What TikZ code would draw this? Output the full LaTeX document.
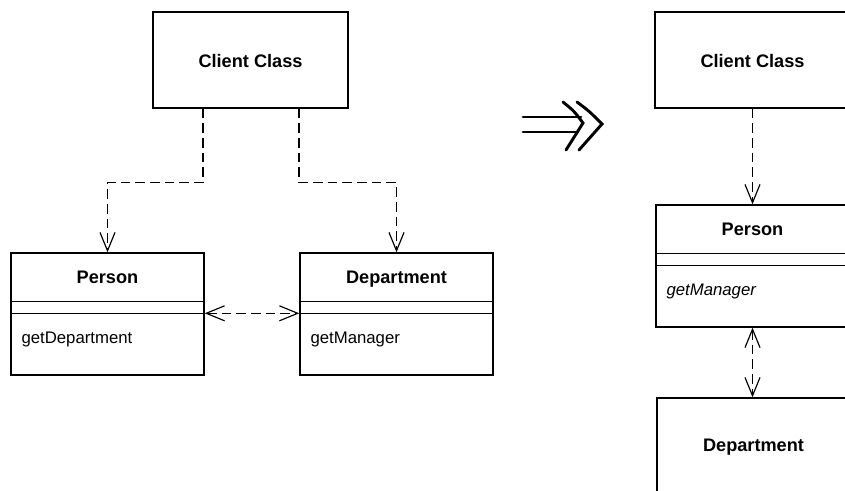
\documentclass[tikz,border=0pt]{standalone}
\usepackage{fontspec}
\setmainfont{Liberation Sans}
\usetikzlibrary{calc,arrows.meta}
\tikzstyle{classbox}=[rectangle, draw=black, line width=1.2pt, minimum width=5.79cm, minimum height=3.66cm, inner sep=0pt, anchor=center]
\tikzstyle{classname}=[font=\fontsize{15.5}{18}\selectfont\bfseries, inner sep=0pt, anchor=base]
\tikzstyle{method}=[anchor=base west, inner sep=0pt, font=\fontsize{14.3}{17}\selectfont]
\tikzstyle{dep}=[line width=1pt, dash pattern=on 0.29cm off 0.15cm]
\tikzstyle{into}=[-{Straight Barb[length=0.55cm, width=0.45cm]}]
\tikzstyle{both}=[{Straight Barb[length=0.55cm, width=0.45cm]}-{Straight Barb[length=0.55cm, width=0.45cm]}]
\tikzstyle{implies}=[line width=2.5pt, line cap=round]
\newcommand{\drawclass}[4]
{
  \node[classbox](#1) at (#2){};
  \node[classname](#1name) at ($(#1.north)+(0,31.5)$) {#3};
  \path let \p1 = (#1.north west), \p2 = (#1.north east) in
    (\x1,\y1) ++(0,49) coordinate (#1a) (\x2,\y2) ++(0,49) coordinate (#1b)
    (\x1,\y1) ++(0,61) coordinate (#1c) (\x2,\y2) ++(0,61) coordinate (#1d);
  \draw[line width=1.2pt] (#1a) -- (#1b);
  \draw[line width=1.2pt] (#1c) -- (#1d);
  \node[method](#1op) at ($(#1.north west)+(11,91)$) {#4};
}

\begin{document}
\begin{tikzpicture}[x=0.03cm, y=-0.03cm]
	\useasboundingbox (0,0) rectangle (845,490);

	% before
	\node[classbox, minimum width=5.85cm, minimum height=2.88cm](client1) at (250.5,60){};
	\node[classname](client1name) at ($(client1.center)+(0,7.5)$) {Client Class};
	\drawclass{person1}{107.5,314}{Person}{getDepartment}
	\drawclass{dept1}{396.5,314}{Department}{getManager}

	\draw[dep, into] (client1.south) ++(-47.5,0) -- ++(0,74) -| (person1.north);
	\draw[dep, into] (client1.south) ++(48.5,0) -- ++(0,74) -| (dept1.north);
	\draw[dep, both] (person1d) -- (dept1c);

	% refactoring arrow
	\draw[implies] (523,117) -- (581,117);
	\draw[implies] (523,132) -- (576,132);
	\draw[implies] (563,102) .. controls (574,111) .. (583,123) .. controls (575,136) .. (566,150);
	\draw[implies] (577,102) .. controls (589,111) .. (602,124) .. controls (591,137) .. (579,150);

	% after
	\node[classbox, minimum width=5.85cm, minimum height=2.88cm](client2) at (752.5,60){};
	\node[classname](client2name) at ($(client2.center)+(0,7.5)$) {Client Class};
	\drawclass{person2}{752.5,266}{Person}{\itshape getManager}
	\node[classbox, minimum height=2.88cm](dept2) at (753.5,446){};
	\node[classname](dept2name) at ($(dept2.center)+(0,5.5)$) {Department};

	\draw[dep, into] (client2.south) -- (person2.north);
	\draw[dep, both] (person2.south) -- (person2.south |- dept2.north);
\end{tikzpicture}
\end{document}
